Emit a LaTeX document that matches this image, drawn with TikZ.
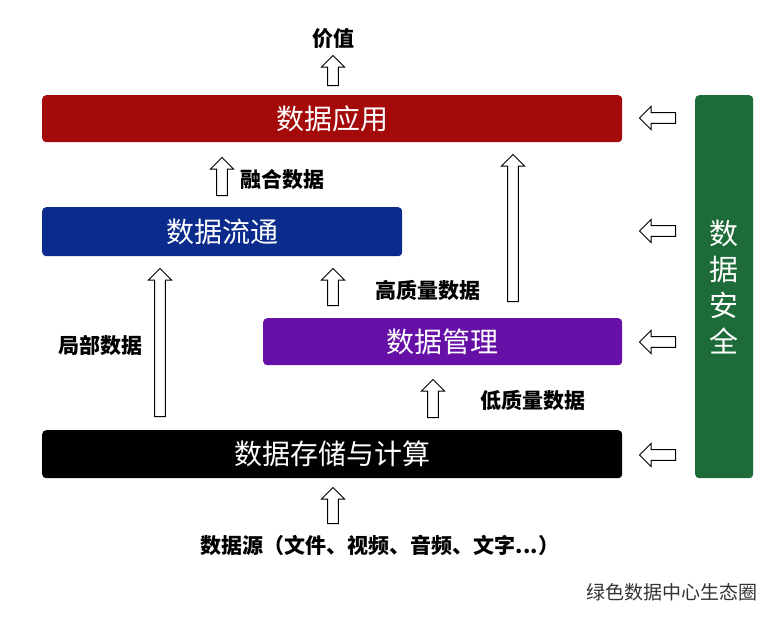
\documentclass[tikz,border=0pt]{standalone}
\usepackage{fontspec}
\setmainfont{Noto Sans CJK SC}
\usetikzlibrary{shapes.arrows}
\definecolor{appred}{HTML}{A50A0A}
\definecolor{flowblue}{HTML}{0B2C8C}
\definecolor{mgmtpurple}{HTML}{6610A8}
\definecolor{safegreen}{HTML}{1D6B38}
\tikzset{
  layer/.style={rounded corners=4pt, text=white, font=\fontsize{28}{30}\selectfont, anchor=north west},
  hollow/.style={single arrow, draw=black, fill=white, line width=0.9pt, minimum width=23pt,
    single arrow head extend=5pt, inner sep=4pt, anchor=tail},
  tag/.style={font=\bfseries\fontsize{21}{23}\selectfont}
}
\begin{document}
\begin{tikzpicture}[x=1pt,y=-1pt]
\useasboundingbox (0,0) rectangle (783,627);
% layers
\node[layer, fill=appred, minimum width=580pt, minimum height=47pt] (app) at (42,95) {数据应用};
\node[layer, fill=flowblue, minimum width=360pt, minimum height=49pt] (flow) at (42,207) {数据流通};
\node[layer, fill=mgmtpurple, minimum width=359pt, minimum height=47pt] (mgmt) at (263,318) {数据管理};
\node[layer, fill=black, minimum width=580pt, minimum height=48pt] (store) at (42,430) {数据存储与计算};
\node[layer, fill=safegreen, minimum width=58pt, minimum height=383pt, align=center,
  font=\fontsize{29}{36}\selectfont] (safe) at (695,95) {数\\据\\安\\全};
% upward arrows
\node[hollow, rotate=90, minimum height=30pt] (up1) at (333,86) {};
\node[hollow, rotate=90, minimum height=38pt] (up2) at (222,196) {};
\node[hollow, rotate=90, minimum height=147pt] (up3) at (513,302) {};
\node[hollow, rotate=90, minimum height=148pt] (up4) at (160,417) {};
\node[hollow, rotate=90, minimum height=37pt] (up5) at (333,306) {};
\node[hollow, rotate=90, minimum height=38pt] (up6) at (433,418) {};
\node[hollow, rotate=90, minimum height=36pt] (up7) at (333,524) {};
% left arrows
\foreach \yy/\nm in {118/l1, 231/l2, 342/l3, 455/l4}
  \node[hollow, rotate=180, minimum height=36pt] (\nm) at (676,\yy) {};
% labels
\node[tag] (val) at (333,39) {价值};
\node[tag, anchor=west] (fuse) at (237,180) {融合数据};
\node[tag] (part) at (100,345) {局部数据};
\node[tag] (high) at (428,290) {高质量数据};
\node[tag] (low) at (533,400) {低质量数据};
\node[tag] (src) at (380,545) {数据源（文件、视频、音频、文字...）};
\node[font=\fontsize{19}{21}\selectfont, text=black!80, anchor=west] (mark) at (583,592) {绿色数据中心生态圈};
\end{tikzpicture}
\end{document}
